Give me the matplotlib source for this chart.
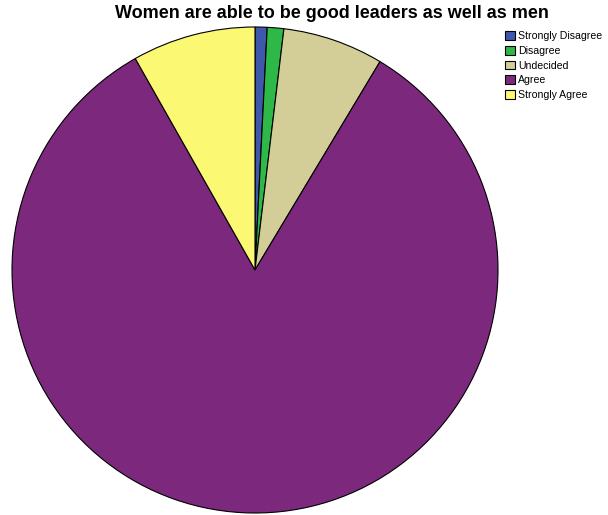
import matplotlib
matplotlib.use("Agg")
import matplotlib.pyplot as plt

plt.rcParams['font.family'] = ['Liberation Sans', 'DejaVu Sans']

labels = ["Strongly Disagree", "Disagree", "Undecided", "Agree", "Strongly Agree"]
percent = [0.8, 1.1, 6.7, 83.2, 8.2]
colors = ["#3E58AC", "#2EB848", "#D3CE97", "#7C287D", "#FBF873"]

fig = plt.figure(figsize=(6.08, 5.15), dpi=100)
ax = fig.add_axes([12/608, 2/515, 486/608, 486/515])

wedges, _ = ax.pie(percent, colors=colors, startangle=90, counterclock=False,
                   wedgeprops=dict(edgecolor="black", linewidth=0.8))
ax.set_xlim(-1, 1)
ax.set_ylim(-1, 1)
ax.set_aspect("equal")

fig.text(332/608, 1 - 14/515, "Women are able to be good leaders as well as men",
         ha="center", va="center", fontsize=13, fontweight="bold")

leg = fig.legend(wedges, labels, loc="upper left", bbox_to_anchor=(503/608, 1 - 29/515),
                 frameon=False, fontsize=7.6, handlelength=0.9, handleheight=0.9,
                 handletextpad=0.3, labelspacing=0.45, borderaxespad=0, borderpad=0.2)

fig.savefig("out.png", dpi=100)
